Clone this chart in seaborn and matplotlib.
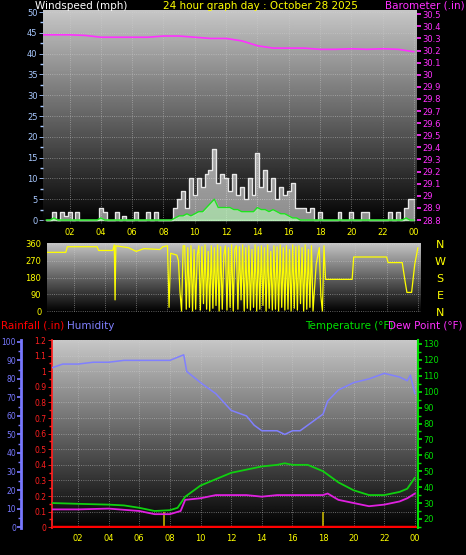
import numpy as np
import matplotlib
matplotlib.use("Agg")
import matplotlib.pyplot as plt
from matplotlib.ticker import AutoMinorLocator
import seaborn as sns

sns.set_theme(style="dark")
plt.rcParams['font.family'] = ['DejaVu Sans']

# ---------------- data ----------------
tick_hours = [2, 4, 6, 8, 10, 12, 14, 16, 18, 20, 22, 24]
tick_labels = ["02", "04", "06", "08", "10", "12", "14", "16", "18", "20", "22", "00"]

wind_gust = [0, 0,
             2, 0, 2, 1, 2, 0, 2, 0, 0, 0, 0, 0, 3, 2, 0, 0, 2, 0, 1, 0,
             0, 2, 0, 0, 2, 0, 2, 0, 0, 0, 0, 3, 5, 7, 3, 10, 6, 10, 8, 11,
             12, 17, 9, 11, 10, 7, 11, 6, 8, 5, 10, 6, 16, 8, 12, 7,
             10, 5, 8, 6, 7, 9, 3, 3, 3, 2, 3, 0, 2, 0, 0, 0, 0, 2, 0, 0,
             2, 0, 0, 2, 2, 0, 0, 0, 0, 0, 2, 0, 2, 0, 3, 5, 5]
wind_avg = [0, 0,
            0.5, 0, 0, 0, 0, 0, 0, 0, 0, 0, 0, 0, 0.5, 0, 0, 0, 0, 0, 0, 0,
            0, 0, 0, 0, 0, 0, 0, 0, 0, 0, 0, 0.5, 1, 1, 1.5, 1, 1.5, 2, 2, 3,
            4, 5, 3, 3, 3, 3, 2.5, 2.5, 2, 2, 2, 2, 3, 2.5, 2.5, 2, 2.5, 2,
            1.5, 1.5, 1, 0.5, 0.5, 0, 0, 0, 0, 0, 0, 0, 0, 0, 0, 0,
            0, 0, 0, 0, 0, 0, 0, 0, 0, 0, 0, 0, 0, 0, 0, 0, 0.5, 0, 0]

baro_hours = [0.3, 1, 2, 3, 4, 5, 6, 7, 8, 9, 10, 11, 12, 13, 14, 15, 16, 17, 18, 19, 20, 21, 22, 23, 24]
baro = [30.33, 30.33, 30.33, 30.325, 30.31, 30.31, 30.31, 30.31, 30.32, 30.32, 30.31, 30.30, 30.30,
        30.28, 30.24, 30.22, 30.22, 30.22, 30.21, 30.21, 30.215, 30.21, 30.215, 30.21, 30.19]

dir_hours = [0.3, 1.5, 1.6, 3.5, 3.6, 4.5, 4.6, 4.65, 4.7, 5.5, 6.0, 6.5, 7.5, 7.7, 8.0, 8.1,
             8.2, 8.6, 8.7, 8.8, 8.9, 9.0, 9.1]
dir_vals = [315, 315, 345, 345, 325, 325, 355, 60, 350, 340, 320, 335, 330, 345, 350, 20,
            310, 300, 270, 100, 0, 350, 350]
chaos_start = 9.2
chaos_vals = [10, 340, 20, 350, 0, 330, 10, 300, 350, 5, 345, 40, 355, 10, 320, 0,
              350, 15, 340, 30, 355, 0, 345, 10, 300, 350, 5, 340, 20, 355, 0, 330,
              350, 10, 345, 60, 355, 0, 340, 15, 350, 5, 330, 20, 355, 0, 345, 10,
              350, 30, 340, 0, 355, 15, 320, 5, 350, 10, 345, 0, 355, 20, 340, 5,
              350, 10, 330, 0, 355, 15, 345, 5, 350, 40, 340, 0, 355, 10, 330, 20, 350, 0]
dir_tail_hours = [17.5, 17.7, 17.8, 17.9, 18.0, 18.1, 19.8, 19.9, 22.0, 22.1, 23.0, 23.2, 23.3, 23.6, 23.8, 24.0]
dir_tail_vals = [250, 340, 80, 0, 350, 170, 170, 290, 290, 260, 260, 150, 100, 100, 250, 340]

hum_hours = [0.3, 1, 2, 3, 4, 5, 6, 7, 8, 8.9, 9.1, 10, 11, 12, 13, 13.5, 14, 15, 15.5, 16, 16.5,
             17, 18, 18.3, 19, 20, 21, 22, 23, 23.5, 23.7, 24]
humidity = [86, 88, 88, 89, 89, 90, 90, 90, 90, 93, 84, 78, 72, 63, 60, 55, 52, 52, 50, 52, 52,
            55, 61, 68, 74, 78, 80, 83, 81, 79, 82, 72]

temp_hours = [0.3, 2, 4, 5, 6, 7, 8, 8.5, 9, 10, 11, 12, 13, 14, 15, 15.5, 16, 17, 18, 19, 20, 21, 22, 23, 23.5, 24]
temperature = [30, 29.5, 29, 28.5, 27, 25, 25.5, 27, 34, 41, 45, 49, 51, 53, 54, 55, 54, 54, 50, 43, 38, 35, 35, 37, 39, 46]
dew_hours = [0.3, 2, 4, 6, 7, 8, 8.7, 9, 10, 11, 12, 13, 14, 15, 16, 17, 18, 18.3, 19, 20, 21, 22, 23, 23.5, 24]
dewpoint = [26, 26, 26.5, 25, 23, 23, 25, 32, 33, 35, 35, 35, 34, 35, 35, 35, 35, 36, 32, 30, 28, 29, 31, 33, 36]
rain_hours = [0.3, 24]
rain = [0, 0]
rain_marks = [7.6, 18.0]

# ---------------- figure ----------------
W, H = 466, 555
fig = plt.figure(figsize=(W / 100, H / 100), dpi=100, facecolor="black")

def rect(x0, y0, x1, y1):
    return [x0 / W, 1 - y1 / H, (x1 - x0) / W, (y1 - y0) / H]

grad = np.linspace(0.78, 0.0, 256).reshape(-1, 1)

def style(ax, lblcolor):
    ax.imshow(grad, extent=[0, 1, 0, 1], transform=ax.transAxes, cmap="gray",
              vmin=0, vmax=1, aspect="auto", zorder=0)
    ax.set_facecolor("black")
    ax.grid(True, color="#d0d0d0", linestyle=":", linewidth=0.6, alpha=0.6)
    for s in ax.spines.values():
        s.set_visible(False)
    ax.tick_params(axis="y", colors=lblcolor, labelsize=6, length=3, width=0.6, pad=1)
    ax.yaxis.set_minor_locator(AutoMinorLocator(2))
    ax.tick_params(axis="y", which="minor", colors=lblcolor, length=2)

xlim = (0.3, 24.2)
tcolor = "#ffff00"

# ---- top: wind + barometer ----
ax1 = fig.add_axes(rect(43, 10, 417, 224))
style(ax1, "#a8c8ff")
t_w = np.linspace(0.5, 24.0, len(wind_gust))
ax1.fill_between(t_w, 0, wind_gust, color="white", alpha=0.55, step="mid", zorder=2)
ax1.step(t_w, wind_gust, where="mid", color="#e8e8e8", lw=0.8, zorder=3)
ax1.fill_between(t_w, 0, wind_avg, color="#b8ffb8", alpha=0.6, zorder=3)
sns.lineplot(x=t_w, y=wind_avg, ax=ax1, color="#20e020", lw=1.0, zorder=4)
ax1.set_xlim(*xlim)
ax1.set_ylim(-0.96, 50.5)
ax1.set_yticks(range(0, 51, 5))
ax1.set_xticks(tick_hours)
ax1.set_xticklabels(tick_labels)
ax1.tick_params(axis="x", colors=tcolor, labelsize=6, length=0, pad=3)
ax1b = ax1.twinx()
for s in ax1b.spines.values():
    s.set_visible(False)
sns.lineplot(x=baro_hours, y=baro, ax=ax1b, color="#ff30ff", lw=1.2)
ax1b.set_ylim(28.767, 30.535)
ax1b.set_yticks(np.round(np.arange(28.8, 30.51, 0.1), 1))
ax1b.set_yticklabels([f"{v:g}" for v in np.round(np.arange(28.8, 30.51, 0.1), 1)])
ax1b.tick_params(axis="y", colors="#ff30ff", labelsize=6, length=3, pad=1)
ax1b.grid(False)
ax1.set_xlabel(""); ax1.set_ylabel(""); ax1b.set_ylabel("")

# ---- middle: wind direction ----
ax2 = fig.add_axes(rect(47, 243, 421, 312))
style(ax2, tcolor)
chaos_hours = [chaos_start + 0.1 * i for i in range(len(chaos_vals))]
dh = dir_hours + chaos_hours + dir_tail_hours
dv = dir_vals + chaos_vals + dir_tail_vals
ax2.plot(dh, dv, color="#ffff00", lw=0.9, zorder=3)
ax2.set_xlim(*xlim)
ax2.set_ylim(-5, 365)
ax2.set_yticks([0, 90, 180, 270, 360])
ax2.set_xticks(tick_hours)
ax2.set_xticklabels([])
ax2.tick_params(axis="x", length=0)
for i, letter in enumerate(["N", "W", "S", "E", "N"]):
    fig.text(440 / W, 1 - (245 + i * 17) / H, letter, color=tcolor, fontsize=8, ha="center", va="center")

# ---- bottom: rain / humidity / temperature ----
ax3 = fig.add_axes(rect(52, 340, 418, 528))
style(ax3, "#ff2020")
ax3.plot(rain_hours, rain, color="#ff0000", lw=2.5, zorder=5)
ax3.vlines(rain_marks, 0, 0.1, color="#c0b000", lw=1.2, zorder=4)
ax3.set_xlim(*xlim)
ax3.set_ylim(-0.005, 1.2)
ax3.set_yticks(np.round(np.arange(0, 1.21, 0.1), 1))
ax3.set_yticklabels([f"{v:g}" for v in np.round(np.arange(0, 1.21, 0.1), 1)])
ax3.tick_params(axis="y", labelsize=5.5)
ax3.spines["left"].set_visible(True)
ax3.spines["left"].set_color("#ff2020")
ax3.set_xticks(tick_hours)
ax3.set_xticklabels(tick_labels)
ax3.tick_params(axis="x", colors=tcolor, labelsize=6, length=0, pad=4)

axh = ax3.twinx()
axh.yaxis.set_ticks_position("left")
axh.yaxis.set_label_position("left")
for s in axh.spines.values():
    s.set_visible(False)
axh.spines["left"].set_visible(True)
axh.spines["left"].set_position(("outward", 22))
axh.spines["left"].set_color("#7878ff")
axh.spines["left"].set_linewidth(2)
sns.lineplot(x=hum_hours, y=humidity, ax=axh, color="#8080ff", lw=1.1)
axh.set_ylim(-0.5, 101)
axh.set_yticks(range(0, 101, 10))
axh.yaxis.set_minor_locator(AutoMinorLocator(2))
axh.tick_params(axis="y", which="both", colors="#7878ff", labelsize=5.5, pad=1, length=3)
axh.tick_params(axis="y", which="minor", length=2)
axh.grid(False)
axh.set_ylabel("")

axt = ax3.twinx()
for s in axt.spines.values():
    s.set_visible(False)
axt.spines["right"].set_visible(True)
axt.spines["right"].set_color("#00e000")
axt.spines["right"].set_linewidth(1.5)
sns.lineplot(x=temp_hours, y=temperature, ax=axt, color="#10d010", lw=1.3)
sns.lineplot(x=dew_hours, y=dewpoint, ax=axt, color="#e020e0", lw=1.3)
axt.set_ylim(14.3, 132.5)
axt.set_yticks(range(20, 131, 10))
axt.yaxis.set_minor_locator(AutoMinorLocator(2))
axt.tick_params(axis="y", which="both", colors="#00e000", labelsize=6, pad=1, length=3)
axt.tick_params(axis="y", which="minor", length=2)
axt.grid(False)
axt.set_ylabel("")
axt.set_xlim(*xlim)

# ---- titles ----
fig.text(35 / W, 1 - 6 / H, "Windspeed (mph)", color="white", fontsize=7.5, va="center")
fig.text(260 / W, 1 - 6 / H, "24 hour graph day : October 28 2025", color=tcolor, fontsize=7.5, va="center", ha="center")
fig.text(465 / W, 1 - 6 / H, "Barometer (.in)", color="#ff30ff", fontsize=7.5, va="center", ha="right")
fig.text(1 / W, 1 - 326 / H, "Rainfall (.in)", color="#ff0000", fontsize=7.5, va="center")
fig.text(67 / W, 1 - 326 / H, "Humidity", color="#8080ff", fontsize=7.5, va="center")
fig.text(393 / W, 1 - 326 / H, "Temperature (°F)", color="#00e000", fontsize=7.5, va="center", ha="right")
fig.text(463 / W, 1 - 326 / H, "Dew Point (°F)", color="#ff30ff", fontsize=7.5, va="center", ha="right")

fig.savefig("out.png", dpi=100, facecolor="black")
